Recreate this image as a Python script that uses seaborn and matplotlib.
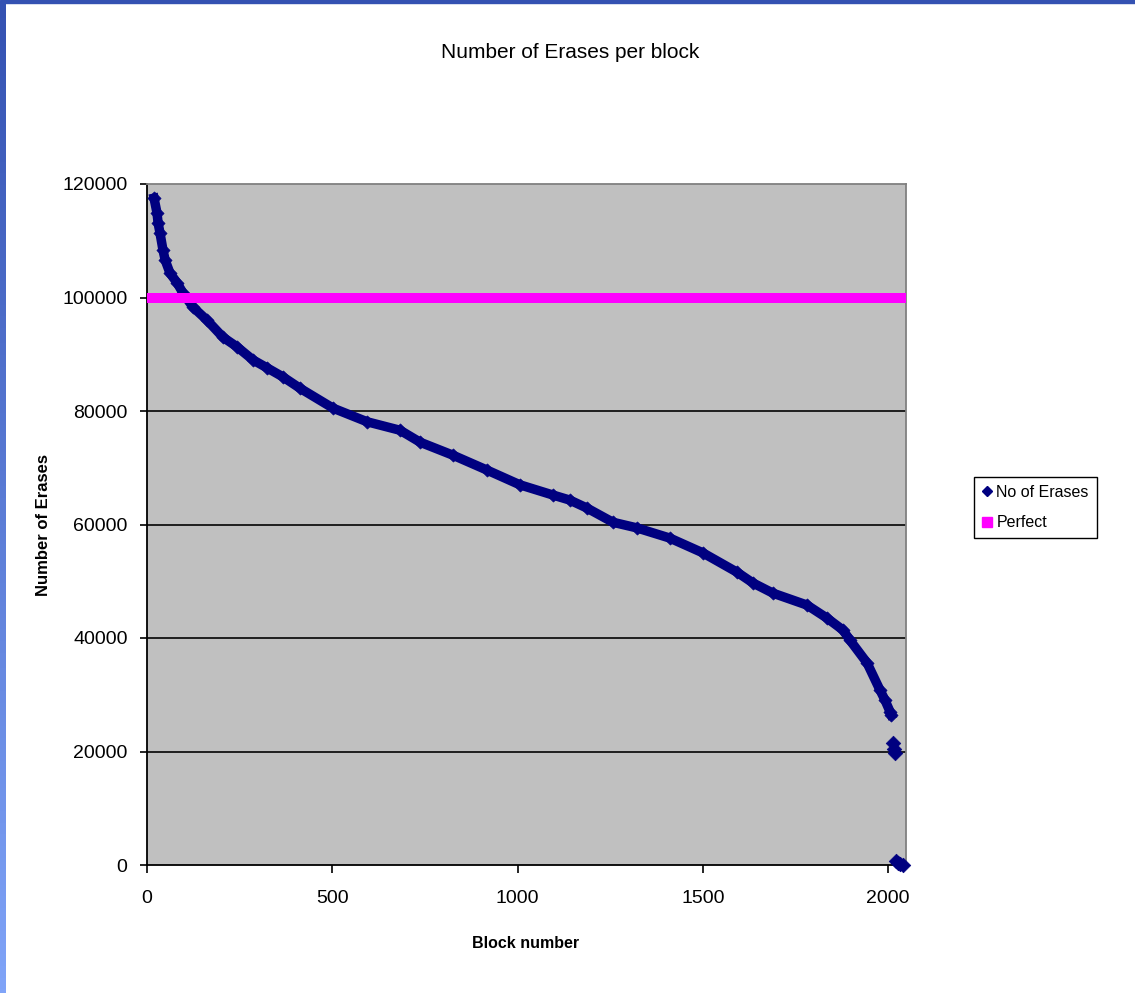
import numpy as np
import pandas as pd
import matplotlib
matplotlib.use("Agg")
import matplotlib.pyplot as plt
from matplotlib.lines import Line2D
from matplotlib.patches import Rectangle
import seaborn as sns

# ---- data ----
main_blocks = [19, 27, 30, 35, 43, 49, 62, 81, 97, 124, 162, 205, 243, 286, 324, 367,
               413, 502, 594, 683, 737, 826, 917, 1006, 1095, 1141, 1187, 1257, 1322,
               1411, 1500, 1592, 1635, 1689, 1781, 1835, 1878, 1897, 1943, 1978, 1991,
               2005, 2008]
main_erases = [117500, 114900, 113100, 111400, 108400, 106600, 104300, 102600, 100800,
               98300, 96000, 93000, 91300, 89000, 87600, 86000, 84000, 80500, 78100,
               76600, 74500, 72200, 69600, 67000, 65200, 64300, 62900, 60400, 59400,
               57600, 55000, 51600, 49700, 47900, 45800, 43500, 41400, 39600, 35600,
               30800, 29100, 27000, 26500]
low_blocks = [2013, 2016, 2018, 2020, 2026, 2033, 2040]
low_erases = [21500, 20500, 19800, 700, 300, 100, 0]
perfect_blocks = [0, 2048]
perfect_erases = [100000, 100000]

x_ticks = [0, 500, 1000, 1500, 2000]
y_ticks = [0, 20000, 40000, 60000, 80000, 100000, 120000]

title = "Number of Erases per block"
x_label = "Block number"
y_label = "Number of Erases"
series_names = ["No of Erases", "Perfect"]

navy = "#000080"
magenta = "#FF00FF"

plt.rcParams["font.family"] = ["Liberation Sans", "DejaVu Sans"]

fig = plt.figure(figsize=(11.35, 9.93), dpi=100)
fig.patch.set_facecolor("white")

W, H = 1135, 993
ax = fig.add_axes([147 / W, 1 - 865 / H, (906 - 147) / W, (865 - 184) / H])
ax.set_facecolor("#C0C0C0")

main_df = pd.DataFrame({"block": main_blocks, "erases": main_erases})
low_df = pd.DataFrame({"block": low_blocks, "erases": low_erases})
perf_df = pd.DataFrame({"block": perfect_blocks, "erases": perfect_erases})

sns.lineplot(data=main_df, x="block", y="erases", ax=ax, color=navy,
             linewidth=6.8, zorder=3, sort=False)
sns.scatterplot(data=main_df, x="block", y="erases", ax=ax, color=navy,
                marker="D", s=45, edgecolor=navy, linewidth=0.5, zorder=3)
sns.scatterplot(data=low_df, x="block", y="erases", ax=ax, color=navy,
                marker="D", s=55, edgecolor=navy, linewidth=0.5, zorder=3,
                clip_on=False)
sns.lineplot(data=perf_df, x="block", y="erases", ax=ax, color=magenta,
             linewidth=7.2, zorder=4, solid_capstyle="butt")

ax.set_xlim(0, 2048)
ax.set_ylim(0, 120000)
ax.set_xticks(x_ticks)
ax.set_yticks(y_ticks)
ax.set_xticklabels([str(v) for v in x_ticks])
ax.set_yticklabels([str(v) for v in y_ticks])

for yv in y_ticks[1:-1]:
    ax.axhline(yv, color="#111111", linewidth=1.3, zorder=1)

for side in ["left", "bottom"]:
    ax.spines[side].set_color("black")
    ax.spines[side].set_linewidth(1.3)
for side in ["top", "right"]:
    ax.spines[side].set_color("#808080")
    ax.spines[side].set_linewidth(1.3)

ax.tick_params(axis="x", direction="out", length=6, width=1.2, pad=12,
               labelsize=14, colors="black")
ax.tick_params(axis="y", direction="out", length=5, width=1.2, pad=9,
               labelsize=14, colors="black")
ax.set_xlabel("")
ax.set_ylabel("")

fig.text(526 / W, 1 - 944 / H, x_label, ha="center", va="center",
         fontsize=11.5, fontweight="bold")
fig.text(44 / W, 1 - 525 / H, y_label, ha="center", va="center",
         fontsize=12, fontweight="bold", rotation=90)
fig.text(570 / W, 1 - 53 / H, title, ha="center", va="center", fontsize=15)

handles = [
    Line2D([], [], linestyle="none", marker="D", markersize=5.5, color=navy),
    Line2D([], [], linestyle="none", marker="s", markersize=6.5, color=magenta),
]
leg = fig.legend(handles, series_names, loc="upper left",
                 bbox_to_anchor=(974 / W, 1 - 477 / H), fontsize=11.5,
                 frameon=True, fancybox=False, edgecolor="black",
                 framealpha=1, handlelength=0.6, handletextpad=0.3,
                 borderpad=0.5, labelspacing=0.95, borderaxespad=0)
leg.get_frame().set_linewidth(1.0)

# slide decoration: top bar and left gradient strip
fig.patches.append(Rectangle((0, 1 - 3 / H), 1, 3 / H, transform=fig.transFigure,
                             color="#3452B2", zorder=10))
strip = fig.add_axes([0, 0, 6 / W, 1 - 3 / H])
grad = np.linspace(0, 1, 256).reshape(-1, 1)
cmap = matplotlib.colors.LinearSegmentedColormap.from_list("s", ["#3452B2", "#80A4F8"])
strip.imshow(grad, aspect="auto", cmap=cmap)
strip.axis("off")

fig.savefig("out.png", dpi=100)
